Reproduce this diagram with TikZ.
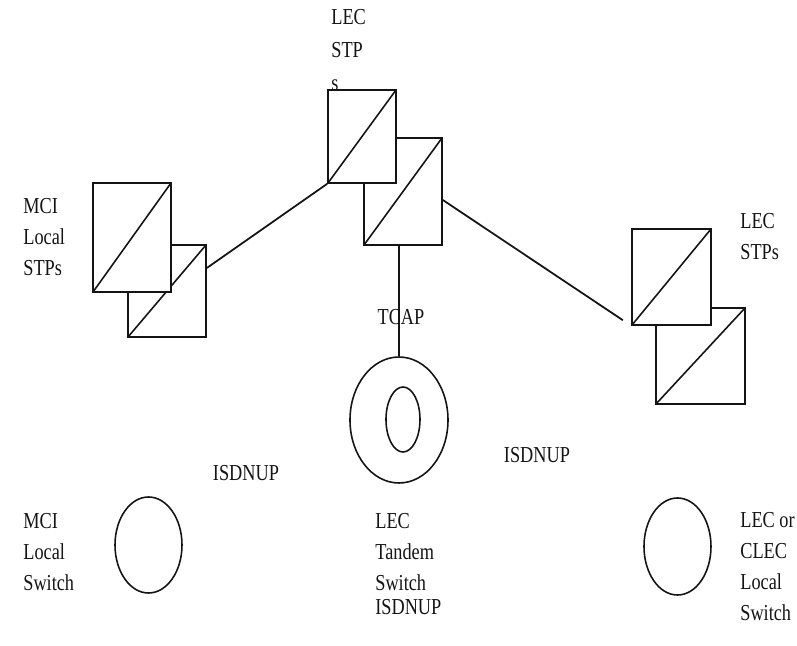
\documentclass[tikz,border=0pt]{standalone}
\usepackage{fontspec}
\setmainfont{Liberation Serif}[FakeStretch=0.8]
\usetikzlibrary{
    calc,
    shapes.geometric
}
\definecolor{ink}{RGB}{20,20,20}
\tikzset{
    line cap=round,
    line join=round,
    stp/.style 2 args={
        rectangle,
        draw=ink,
        fill=white,
        line width=0.9pt,
        inner sep=0pt,
        minimum width=#1*0.2mm,
        minimum height=#2*0.2mm,
        path picture={
            \draw[ink, line width=0.9pt]
                (path picture bounding box.south west) -- (path picture bounding box.north east);
        }
    },
    swnode/.style 2 args={
        ellipse,
        draw=ink,
        line width=0.9pt,
        inner sep=0pt,
        minimum width=#1*0.2mm,
        minimum height=#2*0.2mm
    },
    tag/.style={
        font=\fontsize{13}{17.6}\selectfont,
        text=ink,
        inner sep=0pt,
        align=left
    },
    sslink/.style={
        draw=ink,
        line width=1pt
    }
}
\begin{document}
\begin{tikzpicture}[x=0.2mm, y=-0.2mm]

\useasboundingbox (0,0) rectangle (797,646);

% signal transfer point pairs (back box first)
\node[stp={78}{92}] (mciB) at (167,291) {};
\node[stp={78}{109}] (mciA) at (132,237.5) {};
\node[stp={78}{107}] (lecB) at (403,191.5) {};
\node[stp={68}{93}] (lecA) at (362,136.5) {};
\node[stp={89}{96}] (rB) at (700.5,356) {};
\node[stp={79}{96}] (rA) at (671.5,277) {};

% switches
\node[swnode={98}{126}] (tandOut) at (399,420) {};
\node[swnode={34}{65}] (tandIn) at (403,419.5) {};
\node[swnode={67}{96}] (mciSw) at (148.5,545) {};
\node[swnode={67}{97}] (lecSw) at (677.5,546.5) {};

\draw[sslink] (mciB.30) -- (lecA.south west);
\draw[sslink, shorten >=2mm] (lecB.-12) -- (rA.south west);
\draw[sslink, line width=0.7pt] (tandOut.north |- lecB.south) -- (tandOut.north);

% labels
\node[tag, font=\fontsize{13}{18.7}\selectfont, anchor=north west] (tTop) at (331,9) {LEC\\STP\\s};
\node[tag, anchor=north west] (tMciStp) at (23,198) {MCI\\Local\\STPs};
\node[tag, anchor=north west] (tLecStp) at (740,213) {LEC\\STPs};
\node[tag] (tTcap) at (401,317) {TCAP};
\node[tag] (tIsdnL) at (246,473) {ISDNUP};
\node[tag] (tIsdnR) at (537,455) {ISDNUP};
\node[tag, anchor=north west] (tMciSw) at (23,513) {MCI\\Local\\Switch};
\node[tag, anchor=north west] (tTand) at (375,513) {LEC\\Tandem\\Switch};
\node[tag, anchor=north west] (tIsdnB) at (375,599) {ISDNUP};
\node[tag, anchor=north west] (tLecSw) at (740,512) {LEC or\\CLEC\\Local\\Switch};

\end{tikzpicture}
\end{document}
